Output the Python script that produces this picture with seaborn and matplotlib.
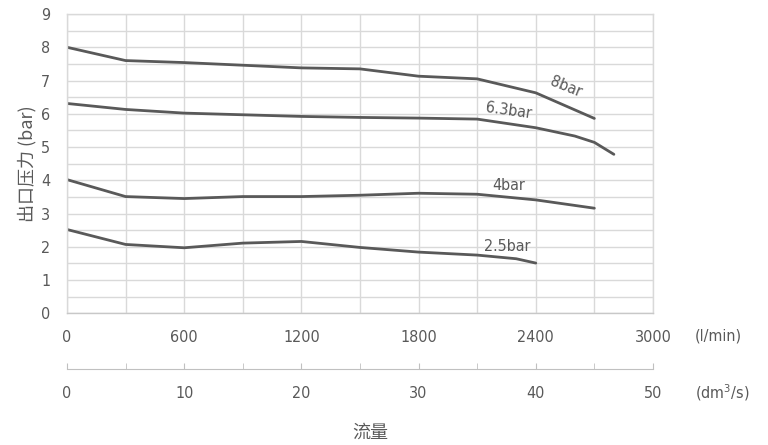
import seaborn as sns
import matplotlib.pyplot as plt
import pandas as pd
from matplotlib.ticker import MultipleLocator, FixedLocator

# flow (l/min) and outlet pressure (bar) per curve
flow_8 = [0, 300, 600, 900, 1200, 1500, 1800, 2100, 2400, 2700]
p_8 = [8.0, 7.6, 7.54, 7.46, 7.38, 7.35, 7.13, 7.05, 6.63, 5.86]

flow_63 = [0, 300, 600, 900, 1200, 1500, 1800, 2100, 2400, 2600, 2700, 2800]
p_63 = [6.31, 6.13, 6.02, 5.97, 5.92, 5.89, 5.87, 5.84, 5.58, 5.33, 5.14, 4.78]

flow_4 = [0, 300, 600, 900, 1200, 1500, 1800, 2100, 2400, 2700]
p_4 = [4.02, 3.51, 3.45, 3.51, 3.51, 3.55, 3.61, 3.58, 3.41, 3.16]

flow_25 = [0, 300, 600, 900, 1200, 1500, 1800, 2100, 2300, 2400]
p_25 = [2.52, 2.07, 1.97, 2.11, 2.16, 1.98, 1.84, 1.75, 1.64, 1.51]

names = ["8bar", "6.3bar", "4bar", "2.5bar"]
dm3_ticks = [0, 10, 20, 30, 40, 50]

frames = []
for name, fx, fy in zip(names, [flow_8, flow_63, flow_4, flow_25], [p_8, p_63, p_4, p_25]):
    frames.append(pd.DataFrame({"flow": fx, "pressure": fy, "curve": name}))
data = pd.concat(frames)

sns.set_style("white")
plt.rcParams['font.family'] = ['DejaVu Sans', 'Noto Sans CJK SC']
plt.rcParams['font.stretch'] = 'condensed'

grey = "#595959"
fig = plt.figure(figsize=(7.68, 4.45), dpi=100)
ax = fig.add_axes([0.0872, 0.296, 0.763, 0.6725])

sns.lineplot(data=data, x="flow", y="pressure", units="curve", estimator=None,
             sort=False, color=grey, linewidth=2.0, ax=ax)

ax.set_xlim(0, 3000)
ax.set_ylim(0, 9)
ax.xaxis.set_major_locator(MultipleLocator(600))
ax.xaxis.set_minor_locator(MultipleLocator(300))
ax.yaxis.set_major_locator(MultipleLocator(1))
ax.yaxis.set_minor_locator(MultipleLocator(0.5))
ax.grid(which="both", color="#d9d9d9", linewidth=1.0)
ax.set_axisbelow(True)
for s in ax.spines.values():
    s.set_color("#d9d9d9")
    s.set_linewidth(1.0)
ax.spines["bottom"].set_color("#c8c8c8")
ax.tick_params(axis="both", which="both", length=0, labelsize=11.5, labelcolor=grey)
ax.tick_params(axis="x", pad=12)
ax.tick_params(axis="y", pad=12)
ax.set_xlabel("")
ax.set_ylabel("出口压力 (bar)", fontsize=13, color=grey, labelpad=3,
              family=['Noto Sans CJK SC', 'DejaVu Sans'])

# curve labels
lab = dict(fontsize=11.5, color=grey, ha="center", va="center")
ax.text(2555, 6.8, "8bar", rotation=-22, **lab)
ax.text(2260, 6.1, "6.3bar", rotation=-8, **lab)
ax.text(2260, 3.84, "4bar", **lab)
ax.text(2255, 2.0, "2.5bar", **lab)

# second flow scale in dm3/s
sec = ax.secondary_xaxis(-0.187, functions=(lambda x: x / 60, lambda x: x * 60))
sec.xaxis.set_major_locator(FixedLocator(dm3_ticks))
sec.xaxis.set_minor_locator(FixedLocator([5, 15, 25, 35, 45]))
sec.spines["bottom"].set_color("#c0c0c0")
sec.tick_params(which="both", direction="in", length=4, color="#c0c0c0",
                labelsize=11.5, labelcolor=grey, pad=12)

fig.text(0.935, 0.245, "(l/min)", fontsize=11.5, color=grey, ha="center", va="center")
fig.text(0.94, 0.117, "(dm$^3$/s)", fontsize=11.5, color=grey, ha="center", va="center")
fig.text(0.482, 0.028, "流量", fontsize=13, color=grey, ha="center", va="center",
         family=['Noto Sans CJK SC', 'DejaVu Sans'])

fig.savefig("out.png", dpi=100)
